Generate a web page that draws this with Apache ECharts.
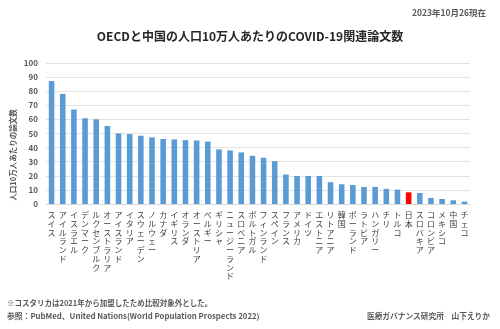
<!DOCTYPE html>
<html>
<head>
<meta charset="utf-8">
<script src="https://cdn.jsdelivr.net/npm/echarts@6/dist/echarts.min.js"></script>
<style>html,body{margin:0;padding:0;background:#fff}#c{width:500px;height:329px}</style>
</head>
<body>
<div id="c"></div>
<script>
const countries = ['スイス','アイルランド','イスラエル','デンマーク','ルクセンブルク','オーストラリア','アイスランド','イタリア','スウェーデン','ノルウェー','カナダ','イギリス','オランダ','オーストリア','ベルギー','ギリシャ','ニュージーランド','スロベニア','ポルトガル','フィンランド','スペイン','フランス','アメリカ','ドイツ','エストニア','リトアニア','韓国','ポーランド','ラトビア','ハンガリー','チリ','トルコ','日本','スロバキア','コロンビア','メキシコ','中国','チェコ'];
const papers = [87.2,78.1,67,60.8,60.1,55.3,50.1,49.6,48.4,47.3,46.1,45.8,45.3,45,44.2,38.7,38,36.6,34.2,32.8,30.4,20.9,19.9,19.9,19.9,15.5,14,13.5,12.1,12.1,10.7,10.2,8.3,7.8,4.3,3.6,2.6,1.7];
const yTicks = [0,10,20,30,40,50,60,70,80,90,100];
const highlight = '日本';

const FONT = '"Noto Sans CJK JP", "Noto Sans", sans-serif';
const chart = echarts.init(document.getElementById('c'), null, {renderer: 'canvas'});
chart.setOption({
  backgroundColor: '#ffffff',
  animation: false,
  textStyle: {fontFamily: FONT},
  title: [{
    text: 'OECDと中国の人口10万人あたりのCOVID-19関連論文数',
    left: 'center', top: 25,
    textStyle: {fontSize: 12, fontWeight: 'bold', color: '#262626', fontFamily: FONT}
  }, {
    text: '2023年10月26現在',
    right: 9, top: 4,
    textStyle: {fontSize: 8.5, fontWeight: 'bold', color: '#595959', fontFamily: FONT}
  }],
  grid: {left: 46, right: 30, top: 63, bottom: 125, containLabel: false},
  xAxis: {
    type: 'category',
    data: countries,
    axisTick: {show: false},
    axisLine: {lineStyle: {color: '#d9d9d9'}},
    axisLabel: {
      interval: 0,
      margin: 7,
      fontSize: 8,
      lineHeight: 8.7,
      color: '#404040',
      fontFamily: FONT,
      formatter: v => v.split('').join('\n'),
      verticalAlign: 'top'
    }
  },
  yAxis: {
    type: 'value',
    min: yTicks[0], max: yTicks[yTicks.length - 1], interval: 10,
    axisLine: {show: false},
    axisTick: {show: false},
    splitLine: {lineStyle: {color: '#e3e3e3'}},
    axisLabel: {fontSize: 8, fontWeight: 'bold', color: '#595959', margin: 8, fontFamily: FONT}
  },
  series: [{
    type: 'bar',
    data: papers,
    barWidth: '50%',
    itemStyle: {
      color: p => p.name === highlight ? '#ff0000' : '#5b9bd5'
    }
  }],
  graphic: [{
    type: 'text',
    x: 13, y: 155, rotation: Math.PI / 2,
    style: {text: '人口10万人あたりの論文数', fill: '#595959', font: 'bold 7.5px ' + FONT, textAlign: 'center', textVerticalAlign: 'middle'}
  }, {
    type: 'text',
    x: 7, y: 303,
    style: {text: '※コスタリカは2021年から加盟したため比較対象外とした。', font: 'bold 7.5px ' + FONT, fill: '#595959', textVerticalAlign: 'middle'}
  }, {
    type: 'text',
    x: 7, y: 316,
    style: {text: '参照：PubMed、United Nations(World Population Prospects 2022)', font: 'bold 7.8px ' + FONT, fill: '#595959', textVerticalAlign: 'middle'}
  }, {
    type: 'text',
    x: 490, y: 316,
    style: {text: '医療ガバナンス研究所　山下えりか', font: 'bold 7.7px ' + FONT, fill: '#595959', textAlign: 'right', textVerticalAlign: 'middle'}
  }]
});
</script>
</body>
</html>
